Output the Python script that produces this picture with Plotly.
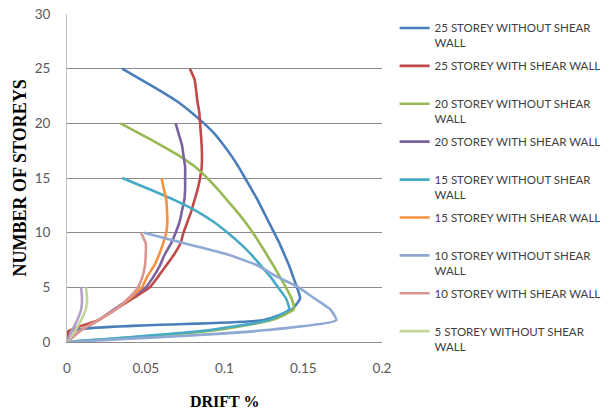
import plotly.graph_objects as go

# storey levels
storeys_25 = list(range(0, 26))
storeys_20 = list(range(0, 21))
storeys_15 = list(range(0, 16))
storeys_10 = list(range(0, 11))
storeys_5 = list(range(0, 6))

# drift % values per storey
drift_25_without = [0, 0.003, 0.125, 0.143, 0.148, 0.146, 0.1435, 0.141, 0.138, 0.135, 0.1315,
                    0.128, 0.1245, 0.121, 0.117, 0.113, 0.109, 0.1045, 0.0995, 0.094, 0.087,
                    0.079, 0.070, 0.059, 0.047, 0.035]
drift_25_with = [0, 0.001, 0.020, 0.031, 0.042, 0.0525, 0.058, 0.063, 0.068, 0.072, 0.074,
                 0.0765, 0.079, 0.081, 0.083, 0.0845, 0.0855, 0.0857, 0.0855, 0.085, 0.0845,
                 0.084, 0.0828, 0.082, 0.081, 0.078]
drift_20_without = [0, 0.09, 0.130, 0.144, 0.1425, 0.139, 0.135, 0.131, 0.1268, 0.1225, 0.118,
                    0.113, 0.1075, 0.1015, 0.0955, 0.089, 0.0815, 0.0715, 0.0595, 0.047, 0.034]
drift_20_with = [0, 0.008, 0.020, 0.030, 0.040, 0.050, 0.055, 0.059, 0.062, 0.066, 0.069,
                 0.0715, 0.073, 0.0745, 0.075, 0.075, 0.075, 0.074, 0.073, 0.071, 0.069]
drift_15_without = [0, 0.085, 0.128, 0.141, 0.139, 0.134, 0.129, 0.123, 0.117, 0.110, 0.102,
                    0.093, 0.082, 0.068, 0.052, 0.035]
drift_15_with = [0, 0.008, 0.020, 0.031, 0.040, 0.0476, 0.051, 0.0554, 0.0585, 0.061, 0.063,
                 0.0637, 0.0635, 0.063, 0.0615, 0.060]
drift_10_without = [0, 0.120, 0.171, 0.167, 0.157, 0.147, 0.133, 0.121, 0.102, 0.075, 0.049]
drift_10_with = [0, 0.008, 0.020, 0.031, 0.039, 0.045, 0.048, 0.0495, 0.050, 0.050, 0.047]
drift_5_without = [0, 0.005, 0.009, 0.012, 0.0128, 0.012]
drift_5_with = [0, 0.003, 0.0065, 0.009, 0.0095, 0.009]

series_names = [
    "25 STOREY WITHOUT SHEAR<br>WALL",
    "25 STOREY WITH SHEAR WALL<br> ",
    "20 STOREY WITHOUT SHEAR<br>WALL",
    "20 STOREY WITH SHEAR WALL<br> ",
    "15 STOREY WITHOUT SHEAR<br>WALL",
    "15 STOREY WITH SHEAR WALL<br> ",
    "10 STOREY WITHOUT SHEAR<br>WALL",
    "10 STOREY WITH SHEAR WALL<br> ",
    "5 STOREY WITHOUT SHEAR<br>WALL",
    "5 STOREY WITH SHEAR WALL",
]
series_x = [drift_25_without, drift_25_with, drift_20_without, drift_20_with,
            drift_15_without, drift_15_with, drift_10_without, drift_10_with,
            drift_5_without, drift_5_with]
series_y = [storeys_25, storeys_25, storeys_20, storeys_20, storeys_15, storeys_15,
            storeys_10, storeys_10, storeys_5, storeys_5]
colors = ["#4A7EBB", "#BE4B48", "#98B954", "#7D60A0", "#46AAC5", "#F69240",
          "#8EA9D4", "#D99694", "#C3D69B", "#B3A2C7"]
in_legend = [True] * 9 + [False]

fig = go.Figure()
for i, (name, xs, ys, c, lg) in enumerate(zip(series_names, series_x, series_y, colors, in_legend)):
    fig.add_trace(go.Scatter(
        x=xs, y=ys, mode="lines", name=name, showlegend=lg,
        legendgroup=f"g{i}",
        line=dict(color=c, width=2.6, shape="spline", smoothing=0.5),
    ))

fig.update_layout(
    width=609, height=416,
    margin=dict(l=67, r=227, t=14, b=74, autoexpand=False),
    paper_bgcolor="white", plot_bgcolor="white",
    font=dict(family="Lato, Liberation Sans, sans-serif", color="#595959", size=13),
    xaxis=dict(range=[0, 0.2], dtick=0.05, tick0=0, showgrid=False, zeroline=False,
               showline=True, linecolor="#8C8C8C", linewidth=1, ticks="",
               ticklabelstandoff=14, tickfont=dict(size=13.5)),
    yaxis=dict(range=[0, 30], dtick=5, tick0=0, showgrid=True, gridcolor="#8C8C8C",
               gridwidth=1, zeroline=False, showline=True, linecolor="#BFBFBF",
               linewidth=1, ticks="", ticklabelstandoff=13, tickfont=dict(size=13.5)),
    legend=dict(x=1.04, xanchor="left", y=1.0, yanchor="top",
                font=dict(size=11.5, color="#404040"), valign="top",
                tracegroupgap=5, bgcolor="rgba(0,0,0,0)", itemwidth=30,
                maxheight=410),
    showlegend=True,
    annotations=[
        dict(text="<b>DRIFT %</b>", xref="paper", yref="paper", x=0.5, y=-0.18,
             xanchor="center", yanchor="middle", showarrow=False,
             font=dict(family="Liberation Serif, serif", size=16, color="#000000")),
        dict(text="<b>NUMBER OF STOREYS</b>", xref="paper", yref="paper", x=-0.148, y=0.5,
             xanchor="center", yanchor="middle", showarrow=False, textangle=-90,
             font=dict(family="Liberation Serif, serif", size=18, color="#000000")),
    ],
)

fig.write_html("out.html")
